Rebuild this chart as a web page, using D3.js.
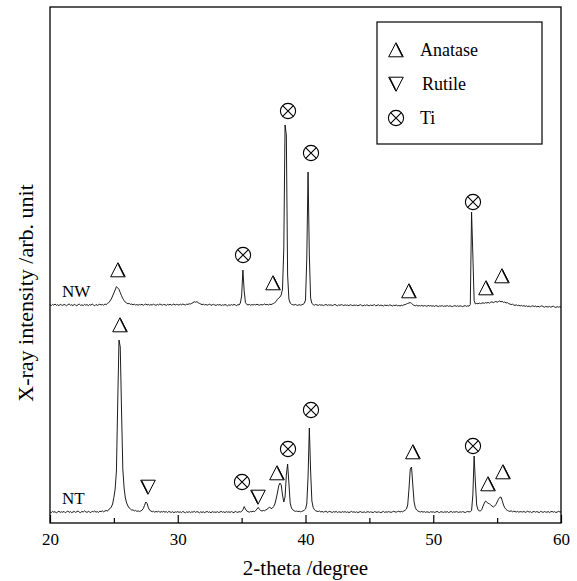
<!DOCTYPE html>
<html>
<head>
<meta charset="utf-8">
<script src="https://cdn.jsdelivr.net/npm/d3@7"></script>
<style>
  body { margin: 0; background: #fff; }
  svg { display: block; }
</style>
</head>
<body>
<svg id="chart" width="577" height="581"></svg>
<script>
// scan grid: 20.0 .. 60.0 deg, 0.1 deg step (one row per degree)
const thetaStart = 20
const thetaStep = 0.1

// NT sample, raw counts
const ntCounts = [
  56, 52, 58, 54, 57, 50, 55, 59, 53, 56,
  54, 58, 51, 56, 60, 53, 57, 52, 55, 58,
  53, 57, 60, 54, 52, 58, 55, 61, 56, 53,
  58, 55, 52, 59, 56, 60, 54, 57, 53, 59,
  57, 61, 56, 60, 63, 59, 68, 72, 80, 95,
  128, 170, 260, 600, 915, 880, 560, 270, 175, 125,
  100, 85, 75, 70, 64, 66, 60, 63, 58, 61,
  57, 60, 64, 72, 88, 105, 98, 76, 64, 60,
  56, 59, 54, 58, 55, 60, 53, 57, 55, 58,
  54, 57, 52, 58, 55, 53, 57, 51, 56, 54,
  57, 53, 56, 52, 58, 54, 51, 56, 53, 57,
  52, 56, 54, 58, 53, 57, 55, 51, 56, 53,
  56, 52, 55, 58, 53, 56, 51, 57, 54, 55,
  53, 57, 52, 55, 58, 54, 56, 52, 57, 54,
  56, 53, 57, 54, 52, 58, 55, 53, 57, 55,
  58, 66, 82, 70, 60, 57, 54, 58, 56, 59,
  57, 62, 70, 78, 68, 62, 60, 63, 61, 66,
  68, 76, 80, 72, 74, 82, 95, 120, 150, 185,
  200, 190, 140, 105, 130, 240, 295, 200, 100, 75,
  66, 62, 58, 60, 57, 59, 56, 58, 60, 64,
  70, 95, 230, 475, 260, 110, 78, 66, 61, 59,
  57, 60, 55, 58, 54, 57, 59, 53, 56, 58,
  55, 53, 57, 54, 58, 52, 56, 55, 53, 57,
  54, 57, 53, 56, 52, 55, 58, 54, 56, 53,
  56, 52, 55, 57, 54, 53, 56, 52, 55, 57,
  53, 56, 54, 52, 57, 55, 53, 56, 54, 52,
  55, 58, 53, 56, 54, 57, 55, 53, 56, 58,
  56, 54, 57, 59, 55, 58, 56, 60, 64, 70,
  90, 170, 270, 280, 190, 105, 76, 65, 60, 57,
  55, 58, 54, 57, 53, 56, 55, 52, 57, 54,
  56, 53, 55, 58, 54, 52, 57, 55, 53, 56,
  54, 57, 52, 55, 58, 53, 56, 54, 57, 55,
  53, 56, 54, 57, 55, 52, 56, 58, 55, 57,
  62, 140, 335, 200, 90, 66, 61, 60, 68, 85,
  100, 110, 104, 98, 96, 90, 85, 80, 84, 92,
  105, 118, 128, 130, 112, 90, 76, 68, 63, 60,
  58, 61, 56, 59, 57, 55, 58, 54, 57, 56,
  55, 58, 53, 56, 59, 54, 57, 52, 56, 58,
  54, 57, 55, 52, 58, 56, 53, 57, 55, 54,
  57, 53, 56, 58, 54, 57, 52, 55, 58, 56,
  55
]

// NW sample, raw counts (shifted up by nwOffset when stacked)
const nwCounts = [
  51, 47, 53, 49, 55, 48, 52, 46, 54, 50,
  48, 53, 50, 46, 52, 55, 49, 51, 47, 53,
  50, 46, 52, 54, 48, 51, 47, 53, 49, 52,
  47, 52, 49, 55, 50, 46, 53, 48, 51, 54,
  50, 53, 49, 55, 52, 58, 62, 70, 80, 95,
  110, 125, 142, 136, 128, 112, 96, 82, 72, 64,
  60, 56, 58, 53, 55, 51, 54, 50, 52, 49,
  53, 50, 54, 48, 52, 55, 50, 53, 49, 52,
  50, 54, 51, 48, 53, 50, 55, 52, 49, 53,
  51, 48, 53, 50, 54, 49, 52, 55, 50, 53,
  52, 49, 54, 51, 55, 52, 50, 54, 53, 56,
  55, 58, 62, 66, 64, 67, 61, 58, 55, 52,
  54, 50, 53, 49, 52, 55, 48, 51, 53, 50,
  48, 52, 50, 53, 47, 51, 49, 52, 50, 46,
  51, 48, 52, 49, 53, 50, 47, 52, 50, 60,
  95, 225, 120, 62, 53, 50, 53, 49, 52, 50,
  53, 50, 54, 51, 49, 53, 50, 52, 55, 51,
  53, 50, 54, 52, 55, 58, 62, 68, 78, 85,
  90, 100, 130, 330, 950, 900, 200, 80, 60, 54,
  52, 49, 53, 50, 48, 52, 49, 51, 53, 58,
  75, 280, 715, 300, 85, 58, 52, 49, 53, 50,
  48, 52, 49, 51, 47, 50, 53, 48, 51, 49,
  51, 47, 50, 53, 49, 46, 51, 48, 52, 50,
  47, 51, 48, 50, 46, 52, 49, 47, 50, 48,
  50, 46, 49, 52, 48, 45, 50, 47, 51, 48,
  46, 50, 47, 49, 52, 46, 48, 51, 47, 49,
  48, 45, 50, 47, 49, 46, 51, 48, 45, 49,
  47, 50, 46, 48, 45, 49, 47, 51, 52, 55,
  58, 60, 62, 58, 52, 48, 46, 49, 45, 47,
  45, 48, 44, 47, 46, 43, 48, 45, 47, 44,
  46, 43, 47, 45, 42, 46, 44, 47, 43, 45,
  44, 47, 43, 46, 44, 42, 45, 47, 43, 46,
  43, 46, 44, 42, 45, 47, 43, 46, 44, 52,
  515, 300, 72, 55, 58, 56, 60, 57, 59, 61,
  58, 62, 60, 63, 59, 64, 66, 62, 65, 68,
  64, 67, 70, 66, 68, 63, 65, 60, 62, 57,
  55, 52, 54, 50, 48, 51, 47, 49, 45, 48,
  44, 47, 43, 46, 42, 45, 41, 44, 46, 42,
  45, 41, 44, 40, 43, 46, 42, 39, 43, 41,
  40, 43, 39, 42, 44, 40, 38, 42, 39, 41,
  40
]
const nwOffset = 1040

const xMajorTicks = [20, 30, 40, 50, 60]
const xMinorTicks = [25, 35, 45, 55]

// peak labels: [2-theta, counts where the symbol sits, phase]
const nwMarks = [
  [25.32, 1265, 'anatase'], [35.11, 1340, 'ti'], [37.46, 1200, 'anatase'],
  [38.63, 2060, 'ti'], [40.43, 1850, 'ti'], [48.1, 1160, 'anatase'],
  [53.11, 1605, 'ti'], [54.13, 1175, 'anatase'], [55.38, 1235, 'anatase']
]
const ntMarks = [
  [25.48, 990, 'anatase'], [27.67, 180, 'rutile'], [35.03, 205, 'ti'],
  [36.28, 130, 'rutile'], [37.77, 250, 'anatase'], [38.63, 370, 'ti'],
  [40.43, 565, 'ti'], [48.41, 355, 'anatase'], [53.11, 385, 'ti'],
  [54.29, 195, 'anatase'], [55.46, 255, 'anatase']
]

const legendLabels = ['Anatase', 'Rutile', 'Ti']
const legendPhases = ['anatase', 'rutile', 'ti']

const serif = '"Liberation Serif", "Times New Roman", serif'
const width = 577
const height = 581
const margin = { top: 7, right: 16, bottom: 58, left: 50 }

const svg = d3.select('#chart').attr('font-family', serif)

const x = d3.scaleLinear().domain([20, 60]).range([margin.left, width - margin.right])
const y = d3.scaleLinear().domain([0, 2580]).range([height - margin.bottom, margin.top])

const theta = (i) => thetaStart + i * thetaStep

/**
 * Draw a phase symbol centred on (cx, cy)
 * anatase: delta with a heavy right leg, rutile: the same turned over, ti: circled cross
 */
function drawSymbol (parent, cx, cy, phase) {
  const g = parent.append('g').attr('transform', `translate(${cx}, ${cy})`)
  if (phase === 'ti') {
    const r = 7.6
    const k = r * Math.SQRT1_2
    g.append('circle').attr('r', r).attr('fill', 'none').attr('stroke', '#000').attr('stroke-width', 1.1)
    g.append('path')
      .attr('d', `M${-k},${-k}L${k},${k}M${-k},${k}L${k},${-k}`)
      .attr('stroke', '#000')
      .attr('stroke-width', 1.1)
  } else {
    const tri = g.append('g').attr('transform', phase === 'rutile' ? 'rotate(180)' : null)
    tri.append('path')
      .attr('d', 'M-7.3,6.8L0,-7.3L7.3,6.8Z')
      .attr('fill', 'none')
      .attr('stroke', '#000')
      .attr('stroke-width', 1)
      .attr('stroke-linejoin', 'miter')
    tri.append('path')
      .attr('d', 'M0.5,-5.6L6.4,6.3')
      .attr('stroke', '#000')
      .attr('stroke-width', 1.3)
  }
  return g
}

// traces
const line = d3.line()
  .x((d, i) => x(theta(i)))
  .y((d) => y(d))

svg.append('path')
  .datum(ntCounts)
  .attr('d', line)
  .attr('fill', 'none')
  .attr('stroke', '#111')
  .attr('stroke-width', 0.95)

svg.append('path')
  .datum(nwCounts.map((c) => c + nwOffset))
  .attr('d', line)
  .attr('fill', 'none')
  .attr('stroke', '#111')
  .attr('stroke-width', 0.95)

// bottom ticks point inwards
const plotBottom = height - margin.bottom
svg.append('g')
  .attr('transform', `translate(0, ${plotBottom})`)
  .call(d3.axisBottom(x).tickValues(xMajorTicks).tickSize(-8).tickPadding(10).tickSizeOuter(0))
  .attr('font-family', serif)
  .attr('font-size', 17)
  .call((g) => g.select('.domain').remove())
  .call((g) => g.selectAll('line').attr('stroke', '#000').attr('stroke-width', 1.2))
  .call((g) => g.selectAll('text').attr('fill', '#000'))

svg.append('g')
  .attr('transform', `translate(0, ${plotBottom})`)
  .call(d3.axisBottom(x).tickValues(xMinorTicks).tickSize(-5).tickFormat('').tickSizeOuter(0))
  .call((g) => g.select('.domain').remove())
  .call((g) => g.selectAll('line').attr('stroke', '#000').attr('stroke-width', 1.2))

// frame
svg.append('rect')
  .attr('x', margin.left)
  .attr('y', margin.top)
  .attr('width', width - margin.left - margin.right)
  .attr('height', plotBottom - margin.top)
  .attr('fill', 'none')
  .attr('stroke', '#000')
  .attr('stroke-width', 1.3)

// peak symbols
nwMarks.concat(ntMarks).forEach(([t, c, phase]) => drawSymbol(svg, x(t), y(c), phase))

// sample names
svg.append('text').attr('x', 62).attr('y', y(nwOffset + 50) - 8).attr('font-size', 17).text('NW')
svg.append('text').attr('x', 62).attr('y', y(55) - 8).attr('font-size', 17).text('NT')

// axis titles
svg.append('text')
  .attr('x', (margin.left + width - margin.right) / 2)
  .attr('y', 575)
  .attr('text-anchor', 'middle')
  .attr('font-size', 21)
  .text('2-theta /degree')

svg.append('text')
  .attr('transform', `translate(33, ${(margin.top + plotBottom) / 2 + 28}) rotate(-90)`)
  .attr('text-anchor', 'middle')
  .attr('font-size', 22)
  .text('X-ray intensity /arb. unit')

// legend
const legend = svg.append('g').attr('transform', 'translate(377, 22)')
legend.append('rect')
  .attr('width', 165)
  .attr('height', 122)
  .attr('fill', '#fff')
  .attr('stroke', '#000')
  .attr('stroke-width', 1.2)

legendLabels.forEach((label, i) => {
  const cy = 28 + i * 34
  drawSymbol(legend, 19, cy, legendPhases[i])
  legend.append('text')
    .attr('x', i === 1 ? 45 : 43)
    .attr('y', cy + 6)
    .attr('font-size', 18)
    .text(label)
})
</script>
</body>
</html>
